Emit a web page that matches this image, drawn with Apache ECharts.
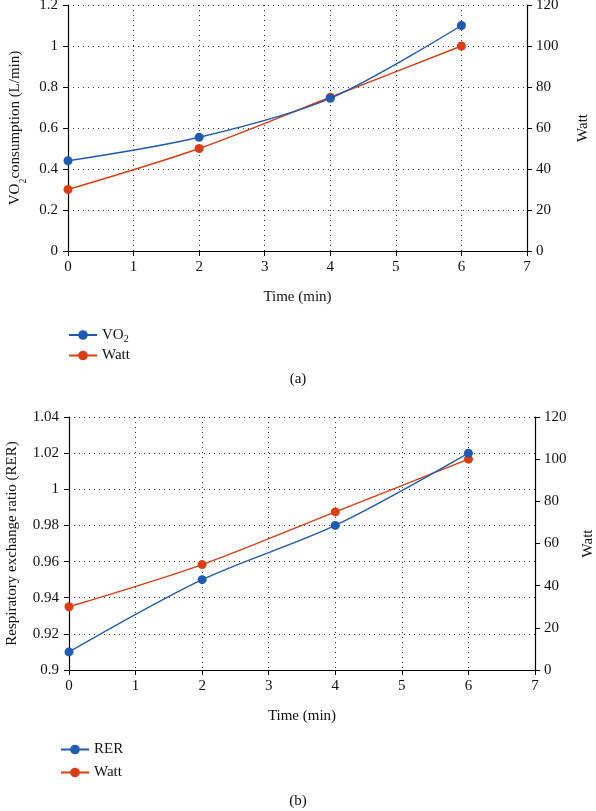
<!DOCTYPE html>
<html><head><meta charset="utf-8">
<script src="https://cdn.jsdelivr.net/npm/echarts@6/dist/echarts.min.js"></script>
<style>html,body{margin:0;padding:0;background:#fff}#c{width:596px;height:811px}</style>
</head><body><div id="c"></div>
<script>
var times = [0, 2, 4, 6];
var vo2 = [0.44, 0.555, 0.745, 1.1];
var wattA = [30, 50, 75, 100];
var rer = [0.91, 0.95, 0.98, 1.02];
var wattB = [30, 50, 75, 100];
var xTicks = [0, 1, 2, 3, 4, 5, 6, 7];

var BLUE = '#1f5bb0', RED = '#dc3d12';
var FONT = 'Liberation Serif';
function pairs(xs, ys){ return xs.map(function(x,i){ return [x, ys[i]]; }); }
var txt = {color:'#111', fontFamily:FONT, fontSize:15};
var dotted = {show:true, lineStyle:{color:'#333', type:[1,4], width:1}};
var axLine = {show:true, lineStyle:{color:'#000', width:1.2}};
var tick = {show:true, inside:false, length:5, lineStyle:{color:'#000'}};

function xAx(gi){
  return {type:'value', gridIndex:gi, min:0, max:7, interval:1,
    axisLine:axLine, axisTick:tick, splitLine:dotted,
    axisLabel:Object.assign({margin:9}, txt),
    name:'Time (min)', nameLocation:'middle', nameGap:39, nameTextStyle:txt};
}
function yLeft(gi, min, max, itv, name, gap){
  return {type:'value', gridIndex:gi, position:'left', min:min, max:max, interval:itv,
    axisLine:axLine, axisTick:tick, splitLine:dotted,
    axisLabel:Object.assign({margin:10}, txt),
    name:name, nameLocation:'middle', nameGap:gap, nameRotate:90,
    nameTextStyle:Object.assign({rich:{b:{fontFamily:FONT,fontSize:15,color:'#111'},s:{fontFamily:FONT,fontSize:10,color:'#111',verticalAlign:'bottom',padding:[0,0,-6,0]}}}, txt)};
}
function yRight(gi, gap){
  return {type:'value', gridIndex:gi, position:'right', min:0, max:120, interval:20,
    axisLine:axLine, axisTick:tick, splitLine:{show:false},
    axisLabel:Object.assign({margin:9}, txt),
    name:'Watt', nameLocation:'middle', nameGap:gap, nameRotate:90, nameTextStyle:txt};
}
function ser(name, data, xi, yi, color){
  return {name:name, type:'line', xAxisIndex:xi, yAxisIndex:yi, data:data, smooth:0.3,
    symbol:'circle', symbolSize:9, itemStyle:{color:color}, lineStyle:{color:color, width:1.4}, z:yi===1||yi===3?3:4};
}
var legRich = {n:{fontFamily:FONT,fontSize:15,color:'#111',height:14,lineHeight:14}, s:{fontFamily:FONT,fontSize:10,color:'#111',height:14,lineHeight:14,padding:[8,0,0,0]}};
function legFmt(n){ return n==='VO2' ? '{n|VO}{s|2}' : '{n|'+n+'}'; }

var chart = echarts.init(document.getElementById('c'), null, {renderer:'canvas'});
chart.setOption({
  animation:false,
  backgroundColor:'#fff',
  grid:[
    {left:68, right:69, top:5, height:246, containLabel:false, outerBoundsMode:'none'},
    {left:69, right:61, top:417, height:253, containLabel:false, outerBoundsMode:'none'}
  ],
  xAxis:[xAx(0), xAx(1)],
  yAxis:[
    yLeft(0, 0, 1.2, 0.2, '{b|VO}{s|2}{b|consumption (L/min)}', 42),
    yRight(0, 49),
    yLeft(1, 0.9, 1.04, 0.02, 'Respiratory exchange ratio (RER)', 49),
    yRight(1, 46)
  ],
  legend:[
    {data:['VO2','Watt '], orient:'vertical', left:63, top:319, itemWidth:28, itemHeight:12, itemGap:2,
     formatter:function(n){return legFmt(n.trim());}, textStyle:{rich:legRich, fontFamily:FONT, fontSize:15, color:'#111'}},
    {data:['RER','Watt'], orient:'vertical', left:55, top:737, itemWidth:28, itemHeight:12, itemGap:8,
     formatter:legFmt, textStyle:{rich:legRich, fontFamily:FONT, fontSize:15, color:'#111'}}
  ],
  series:[
    ser('VO2', pairs(times, vo2), 0, 0, BLUE),
    ser('Watt ', pairs(times, wattA), 0, 1, RED),
    ser('RER', pairs(times, rer), 1, 2, BLUE),
    ser('Watt', pairs(times, wattB), 1, 3, RED)
  ],
  graphic:[
    {type:'text', left:'center', top:372, style:{text:'(a)', font:'15px "Liberation Serif"', fill:'#111'}},
    {type:'text', left:'center', top:794, style:{text:'(b)', font:'15px "Liberation Serif"', fill:'#111'}}
  ]
});
</script></body></html>
